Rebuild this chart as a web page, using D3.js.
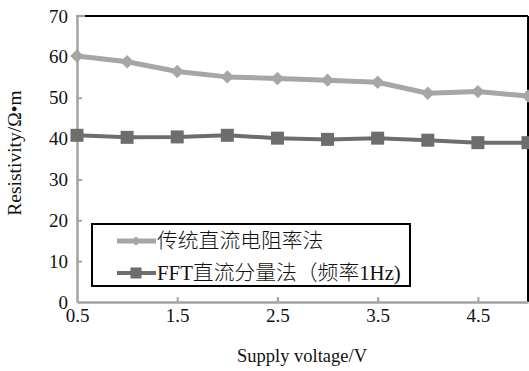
<!DOCTYPE html>
<html>
<head>
<meta charset="utf-8">
<script src="https://cdn.jsdelivr.net/npm/d3@7"></script>
<style>
  html, body { margin: 0; padding: 0; background: #ffffff; }
  svg { display: block; }
  text { font-family: "Liberation Serif", "Times New Roman", "Noto Sans CJK SC", serif; }
</style>
</head>
<body>
<svg id="chart" width="529" height="371"></svg>
<script>
const voltages = [0.5, 1.0, 1.5, 2.0, 2.5, 3.0, 3.5, 4.0, 4.5, 5.0];
const traditionalDC = [60.2, 58.8, 56.4, 55.1, 54.7, 54.3, 53.8, 51.1, 51.5, 50.4];
const fftDC = [40.8, 40.3, 40.4, 40.8, 40.1, 39.8, 40.1, 39.6, 39.0, 39.0];
const seriesNames = ["传统直流电阻率法", "FFT直流分量法（频率1Hz)"];
const xTicks = [0.5, 1.5, 2.5, 3.5, 4.5];
const yTicks = [0, 10, 20, 30, 40, 50, 60, 70];
const xTitle = "Supply voltage/V";
const yTitle = "Resistivity/Ω•m";

const svg = d3.select("#chart");
const L = 77, R = 528, T = 16, B = 302;
const x = d3.scaleLinear().domain([0.5, 5]).range([L, R]);
const y = d3.scaleLinear().domain([0, 70]).range([B, T]);

const axisGray = "#a3a3a3";
const c1 = "#a6a6a6", c2 = "#6d6d6d";
const serif = "'Liberation Serif', 'Times New Roman', 'Noto Sans CJK SC', serif";

// frame: top and right black
svg.append("line").attr("x1", L).attr("x2", R).attr("y1", T).attr("y2", T)
  .attr("stroke", "#000").attr("stroke-width", 2.2);
svg.append("line").attr("x1", R).attr("x2", R).attr("y1", T).attr("y2", B)
  .attr("stroke", "#000").attr("stroke-width", 2);
svg.append("line").attr("x1", L - 1).attr("x2", L + 8).attr("y1", T).attr("y2", T)
  .attr("stroke", axisGray).attr("stroke-width", 2.2);

// axes
const yAxis = d3.axisLeft(y).tickValues(yTicks).tickSizeInner(-5).tickSizeOuter(0).tickPadding(9).tickFormat(d3.format("d"));
const xAxis = d3.axisBottom(x).tickValues(xTicks).tickSizeInner(-5).tickSizeOuter(0).tickPadding(7).tickFormat(d3.format(".1f"));

const gy = svg.append("g").attr("transform", `translate(${L},0)`).call(yAxis);
const gx = svg.append("g").attr("transform", `translate(0,${B})`).call(xAxis);
[gx, gy].forEach(g => {
  g.attr("font-size", null).attr("font-family", null);
  g.select(".domain").attr("stroke", axisGray).attr("stroke-width", 2.5);
  g.selectAll(".tick line").attr("stroke", axisGray).attr("stroke-width", 2);
  g.selectAll(".tick text").attr("fill", "#111").style("font-size", "19px")
    .style("font-family", serif);
});
gx.selectAll(".tick").filter(d => d === 0.5).select("line").remove();
gy.selectAll(".tick").filter(d => d === 0 || d === 70).select("line").remove();

// lines
const line = d3.line().x((d, i) => x(voltages[i])).y(d => y(d));
svg.append("path").datum(traditionalDC).attr("d", line)
  .attr("fill", "none").attr("stroke", c1).attr("stroke-width", 5).attr("stroke-linejoin", "round");
svg.append("path").datum(fftDC).attr("d", line)
  .attr("fill", "none").attr("stroke", c2).attr("stroke-width", 4).attr("stroke-linejoin", "round");

svg.selectAll(".m1").data(traditionalDC).enter().append("path")
  .attr("d", d3.symbol().type(d3.symbolSquare).size(90))
  .attr("transform", (d, i) => `translate(${x(voltages[i])},${y(d)}) rotate(45)`)
  .attr("fill", c1);
svg.selectAll(".m2").data(fftDC).enter().append("rect")
  .attr("x", (d, i) => x(voltages[i]) - 6.5).attr("y", d => y(d) - 6.5)
  .attr("width", 13).attr("height", 13).attr("fill", c2);

// legend
const lg = svg.append("g");
lg.append("rect").attr("x", 92).attr("y", 224).attr("width", 318).attr("height", 62)
  .attr("fill", "#fff").attr("stroke", "#000").attr("stroke-width", 2);
const rows = [{name: seriesNames[0], c: c1, y: 241, shape: "d"}, {name: seriesNames[1], c: c2, y: 273, shape: "s"}];
rows.forEach(r => {
  lg.append("line").attr("x1", 117).attr("x2", 156).attr("y1", r.y).attr("y2", r.y)
    .attr("stroke", r.c).attr("stroke-width", r.shape === "d" ? 5 : 4);
  if (r.shape === "d") {
    lg.append("path").attr("d", d3.symbol().type(d3.symbolSquare).size(45)())
      .attr("transform", `translate(136,${r.y}) rotate(45)`).attr("fill", r.c);
  } else {
    lg.append("rect").attr("x", 130.5).attr("y", r.y - 5.5).attr("width", 11).attr("height", 11).attr("fill", r.c);
  }
  lg.append("text").attr("x", 157).attr("y", r.y).attr("dy", "0.36em")
    .style("font-size", "20.8px").style("font-weight", "300").attr("fill", "#111").text(r.name);
});

// titles
svg.append("text").attr("x", 302).attr("y", 362).attr("text-anchor", "middle")
  .style("font-size", "18.5px").attr("fill", "#111").text(xTitle);
svg.append("text").attr("transform", "translate(21,153) rotate(-90)").attr("text-anchor", "middle")
  .style("font-size", "19.5px").attr("fill", "#111").text(yTitle);
</script>
</body>
</html>
